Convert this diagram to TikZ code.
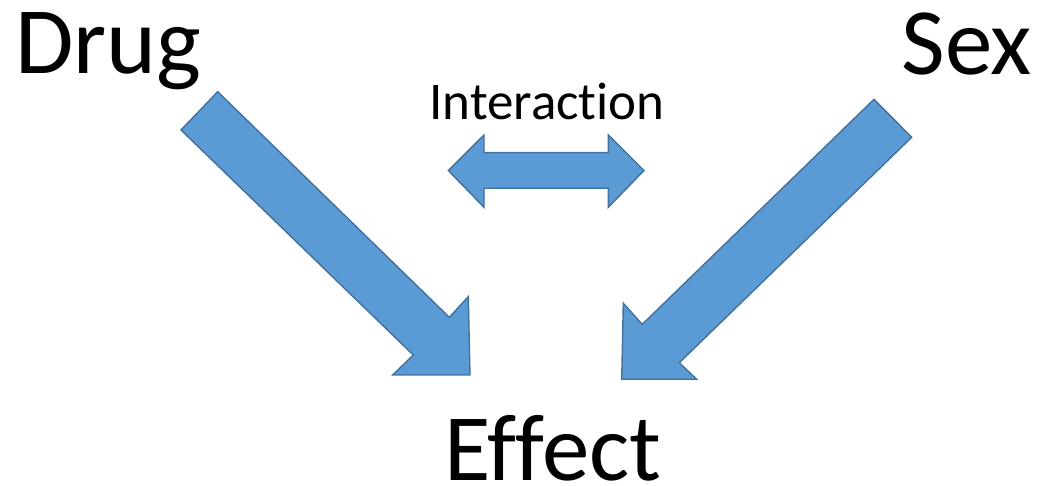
\documentclass[tikz,border=0pt]{standalone}
\usepackage{fontspec}
\setmainfont{Carlito}[Ligatures={NoCommon,NoRare,NoDiscretionary,NoHistoric}]
\definecolor{arrowfill}{HTML}{5B9BD5}
\definecolor{arrowline}{HTML}{41719C}
\begin{document}
\begin{tikzpicture}[x=1pt,y=-1pt,
  bigarrow/.style={fill=arrowfill,draw=arrowline,line width=1.4pt,line join=miter},
  bigtext/.style={inner sep=0pt,anchor=base,text depth=0pt,font=\fontsize{95}{110}\selectfont},
  smalltext/.style={inner sep=0pt,anchor=base,font=\fontsize{53}{62}\selectfont}]
\useasboundingbox (0,0) rectangle (1042,486);
\node[bigtext] (drug) at (108.5,74) {Drug};
\node[bigtext] (sex) at (966.7,75) {Sex};
\node[bigtext] (effect) at (552.7,480) {Effect};
\node[smalltext] (interaction) at (547,120) {Interaction};
% Drug arrow
\draw[bigarrow] (217.7,91.7) -- (449.3,317.3) -- (468.3,296.7) -- (470,375) -- (392.7,375) -- (413.3,355) -- (181,130) -- cycle;
% Sex arrow
\draw[bigarrow] (874,99.3) -- (911.7,137.3) -- (679.3,362.7) -- (696.7,379.3) -- (621.7,379.3) -- (623.3,303.3) -- (642.3,324.3) -- cycle;
% Interaction double arrow
\draw[bigarrow] (448.3,170.5) -- (484,135) -- (484,152.7) -- (608.3,152.7) -- (608.3,135) -- (644,170.5) -- (608.3,207.3) -- (608.3,188.3) -- (484,188.3) -- (484,207.3) -- cycle;
\end{tikzpicture}
\end{document}
